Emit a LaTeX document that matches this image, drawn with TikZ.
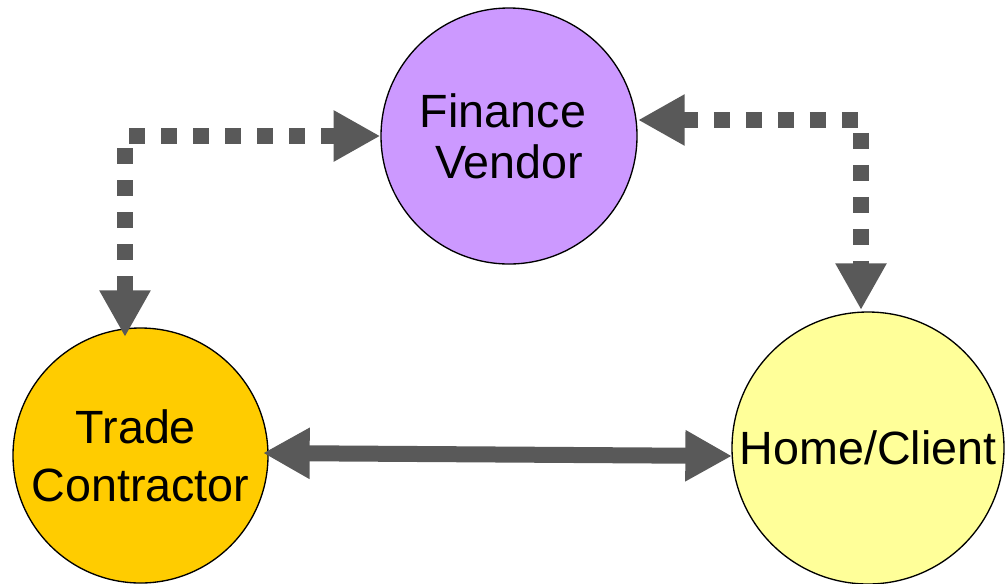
\documentclass[tikz,border=0pt]{standalone}
\usepackage{fontspec}
\setmainfont{Liberation Sans}
\usetikzlibrary{arrows.meta,calc}
\definecolor{arrowgray}{HTML}{595959}
\definecolor{violetfill}{HTML}{CC99FF}
\definecolor{goldfill}{HTML}{FFCC00}
\definecolor{paleyellow}{HTML}{FFFF99}
\begin{document}
\begin{tikzpicture}[x=0.75pt,y=-0.75pt,
  party/.style={circle, draw=black, line width=1pt, inner sep=0pt, align=center,
    font=\fontsize{35}{38.25}\selectfont},
  link/.style={draw=arrowgray, line width=12pt,
    {Triangle[length=35pt,width=36pt]}-{Triangle[length=35pt,width=36pt]}},
  dottedlink/.style={link, dash pattern=on 12pt off 12pt}]
\useasboundingbox (0,0) rectangle (1005,583);
\node[party, fill=violetfill, minimum size=192pt] (fv) at (509,136) {Finance\hspace*{9pt}\\Vendor};
\node[party, fill=goldfill, minimum size=191.25pt,
  font=\fontsize{35}{43.5}\selectfont] (tc) at (140.5,455.5) {Trade\hspace*{7pt}\\Contractor};
\node[party, fill=paleyellow, minimum size=204pt] (hc) at (868,448) {Home/Client};
\coordinate (ltip) at ($(tc.center)+(-15.5,-118.5)$);
\coordinate (rstart) at ($(fv.center)+(129,-16)$);
\coordinate (rtip) at ($(hc.center)+(-7,-138)$);
\coordinate (bl) at ($(tc.center)+(122.5,-2.5)$);
\coordinate (br) at ($(hc.center)+(-136,8)$);
\draw[dottedlink] (fv.west) -| (ltip);
\draw[dottedlink] (rstart) -| (rtip);
\draw[link] (bl) -- (br);
\end{tikzpicture}
\end{document}
